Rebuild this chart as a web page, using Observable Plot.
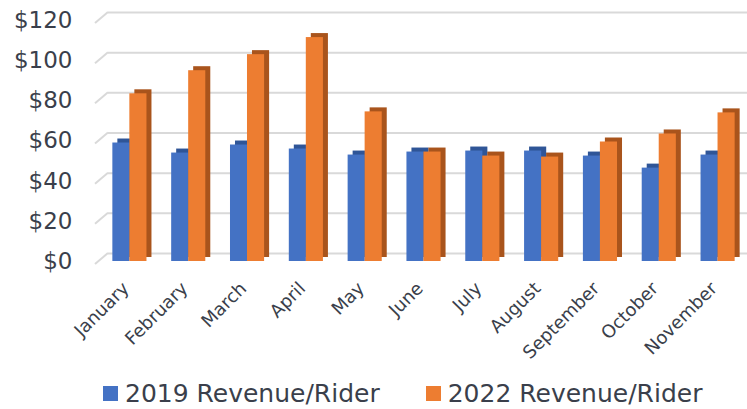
<!DOCTYPE html>
<html>
<head>
<meta charset="utf-8">
<script src="https://cdn.jsdelivr.net/npm/d3@7"></script>
<script src="https://cdn.jsdelivr.net/npm/@observablehq/plot@0.6"></script>
<style>
  html, body { margin: 0; padding: 0; background: #fff; }
  #chart { width: 747px; }
  .legend { display: flex; justify-content: flex-start; align-items: center; height: 30px; padding-top: 28px;
    font-family: "DejaVu Sans", sans-serif; font-size: 25px; color: #3a3f4b; }
  .legend span.sw { display: inline-block; width: 15px; height: 15px; margin-right: 7px; }
  .legend .item { display: flex; align-items: center; white-space: nowrap; }
</style>
</head>
<body>
<div id="chart"></div>
<script>
const months = ["January","February","March","April","May","June","July","August","September","October","November"];
const rev2019 = [59, 54, 58, 56, 53, 54.5, 55, 55, 52.5, 46.5, 53];
const rev2022 = [83.5, 95, 103, 111.5, 74.5, 54.5, 52.5, 52, 59.5, 63.5, 74];
const yTicks = [0, 20, 40, 60, 80, 100, 120];
const seriesNames = ["2019 Revenue/Rider", "2022 Revenue/Rider"];
const colors = ["#4472c4", "#ed7d31"];
const darkColors = ["#2f5597", "#a9541c"];

const data2019 = months.map((m, i) => ({month: m, value: rev2019[i]}));
const data2022 = months.map((m, i) => ({month: m, value: rev2022[i]}));

const H = 350;
const stubs = (index, scales, values, dimensions) => {
  const g = d3.create("svg:g");
  for (const t of yTicks) {
    const y = scales.y(t);
    g.append("line").attr("x1", dimensions.marginLeft - 5).attr("y1", y + 3)
      .attr("x2", dimensions.marginLeft + 8).attr("y2", y - 8)
      .attr("stroke", "#d9d9d9").attr("stroke-width", 2);
  }
  return g.node();
};

const chart = Plot.plot({
  width: 747,
  height: H,
  marginLeft: 100,
  marginRight: 0,
  marginTop: 20,
  marginBottom: H - 261,
  style: {fontFamily: "DejaVu Sans, sans-serif", color: "#3a3f4b", background: "#fff", overflow: "visible"},
  x: {domain: months, paddingInner: 0.42, paddingOuter: 0.21, round: false, label: null},
  y: {domain: [0, 120], label: null},
  marks: [
    Plot.ruleY(yTicks, {dy: -8, insetLeft: 8, stroke: "#d9d9d9", strokeWidth: 2}),
    stubs,
    Plot.barY(data2019, {x: "month", y: "value", insetRight: 17, fill: darkColors[0], dx: 5, dy: -4}),
    Plot.barY(data2019, {x: "month", y: "value", insetRight: 17, fill: colors[0]}),
    Plot.barY(data2022, {x: "month", y: "value", insetLeft: 17, fill: darkColors[1], dx: 5, dy: -4}),
    Plot.barY(data2022, {x: "month", y: "value", insetLeft: 17, fill: colors[1]}),
    Plot.axisY(yTicks, {tickSize: 0, tickPadding: 28, fontSize: 23, tickFormat: d => "$" + d, fill: "#3a3f4b"}),
    Plot.axisX({tickSize: 0, tickRotate: -45, fontSize: 18, tickPadding: 10, fill: "#3a3f4b", dx: -4, dy: 14})
  ]
});
document.getElementById("chart").appendChild(chart);

const legend = document.createElement("div");
legend.className = "legend";
legend.innerHTML = seriesNames.map((n, i) =>
  `<div class="item" style="margin-left:${i === 0 ? 103 : 46}px"><span class="sw" style="background:${colors[i]}"></span>${n}</div>`
).join("");
document.getElementById("chart").appendChild(legend);
</script>
</body>
</html>
